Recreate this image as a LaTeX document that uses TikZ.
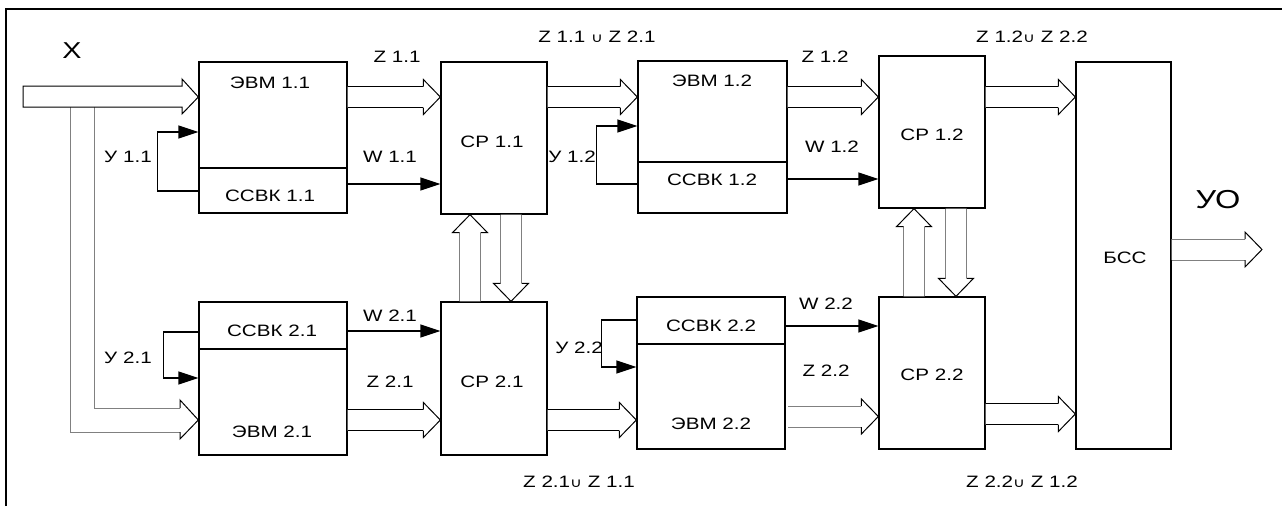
\documentclass[tikz,border=0pt]{standalone}
\usepackage{fontspec}
\setmainfont{Liberation Sans}
\newfontfamily\lblfont[FakeStretch=1.25]{Liberation Sans}
\newfontfamily\symfont[FakeStretch=1.25]{DejaVu Sans}
\usetikzlibrary{arrows.meta,calc}
\tikzset{
  box/.style={draw, line width=1.3pt, inner sep=0pt},
  lbl/.style={font=\lblfont\fontsize{16.5}{19}\selectfont, inner sep=0pt},
  biglbl/.style={font=\lblfont\fontsize{23}{26}\selectfont, inner sep=0pt},
  hugelbl/.style={font=\lblfont\fontsize{26}{30}\selectfont, inner sep=0pt},
  sig/.style={line width=1.3pt, -{Triangle[length=20pt,width=13pt]}},
  hollow/.style={line width=1pt},
  frame/.style={line width=2.5pt}
}
\newcommand\cupsym{{\symfont\fontsize{13}{14}\selectfont ∪}}
\newcommand\blk[5]{\node[box, minimum width={(#4-#2)*1pt}, minimum height={(#5-#3)*1pt}] (#1) at ({(#2+#4)/2},{(#3+#5)/2}) {};}
% horizontal hollow arrow, pointing right
\newcommand\harr[3][black]{%
  \path #2 coordinate (hs) #3 coordinate (he);
  \fill[white] ($(hs)+(0,-10.5)$) -- ($(he)+(-17,-10.5)$) -- ($(he)+(-17,-17.5)$) -- (he) -- ($(he)+(-17,17.5)$) -- ($(he)+(-17,10.5)$) -- ($(hs)+(0,10.5)$) -- cycle;
  \draw[hollow,#1] ($(hs)+(0,-10.5)$) -- ($(he)+(-17,-10.5)$) ($(he)+(-17,10.5)$) -- ($(hs)+(0,10.5)$);
  \draw[hollow] ($(he)+(-17,-10.5)$) -- ($(he)+(-17,-17.5)$) -- (he) -- ($(he)+(-17,17.5)$) -- ($(he)+(-17,10.5)$);
}
% vertical hollow arrow; #4 = +18 (up) or -18 (down)
\newcommand\varr[4][gray]{%
  \path #2 coordinate (vs) #3 coordinate (ve);
  \fill[white] ($(vs)+(-10.5,0)$) -- ($(ve)+(-10.5,#4)$) -- ($(ve)+(-17.5,#4)$) -- (ve) -- ($(ve)+(17.5,#4)$) -- ($(ve)+(10.5,#4)$) -- ($(vs)+(10.5,0)$) -- cycle;
  \draw[hollow,#1] ($(vs)+(-10.5,0)$) -- ($(ve)+(-10.5,#4)$) ($(ve)+(10.5,#4)$) -- ($(vs)+(10.5,0)$);
  \draw[hollow] ($(ve)+(-10.5,#4)$) -- ($(ve)+(-17.5,#4)$) -- (ve) -- ($(ve)+(17.5,#4)$) -- ($(ve)+(10.5,#4)$);
}
\begin{document}
\begin{tikzpicture}[x=1pt,y=-1pt]
\useasboundingbox (0,0) rectangle (1282,506);
% frame
\draw[frame] (6,506) -- (6,9) -- (1282,9);

% blocks
\blk{evm11}{199}{62}{347}{168}
\blk{ssvk11}{199}{168}{347}{213}
\blk{cp11}{441}{62}{547}{214}
\blk{evm12}{638}{61}{787}{162}
\blk{ssvk12}{638}{162}{787}{213}
\blk{cp12}{879}{56}{985}{208}
\blk{bss}{1076}{62}{1171}{449}
\blk{ssvk21}{199}{302}{347}{349}
\blk{evm21}{199}{349}{347}{455}
\blk{cp21}{441}{302}{547}{455}
\blk{ssvk22}{637}{297}{785}{344}
\blk{evm22}{637}{344}{785}{449}
\blk{cp22}{879}{297}{985}{449}

% block texts
\node[lbl] (tevm11) at (270,83) {ЭВМ 1.1};
\node[lbl] (tssvk11) at (270,196) {ССВК 1.1};
\node[lbl] (tcp11) at (492,142) {СР 1.1};
\node[lbl] (tevm12) at (712,81) {ЭВМ 1.2};
\node[lbl] (tssvk12) at (712,180) {ССВК 1.2};
\node[lbl] (tcp12) at (932,135) {СР 1.2};
\node[lbl] (tbss) at (1125,258) {БСС};
\node[lbl] (tssvk21) at (272,331) {ССВК 2.1};
\node[lbl] (tevm21) at (272,432) {ЭВМ 2.1};
\node[lbl] (tcp21) at (492,382) {СР 2.1};
\node[lbl] (tssvk22) at (711,326) {ССВК 2.2};
\node[lbl] (tevm22) at (711,424) {ЭВМ 2.2};
\node[lbl] (tcp22) at (932,375) {СР 2.2};

% X input and its branches to ЭВМ 2.1
\draw[hollow,gray] (70,107) -- (70,432) -- (180,432);
\draw[hollow,gray] (94,107) -- (94,408) -- (180,408);
\draw[hollow] (180,408) -- (180,400) -- (evm21.west |- 0,420) -- (180,439) -- (180,432);
\draw[hollow, fill=white] (23,86) -- (182,86) -- (182,79) -- (evm11.west |- 0,97) -- (182,114) -- (182,107) -- (23,107) -- cycle;

% hollow data arrows
\harr{(evm11.east |- 0,97)}{(cp11.west |- 0,97)}
\harr{(cp11.east |- 0,97)}{(evm12.west |- 0,97)}
\harr{(evm12.east |- 0,97)}{(cp12.west |- 0,97)}
\harr{(cp12.east |- 0,97)}{(bss.west |- 0,97)}
\harr{(evm21.east |- 0,420)}{(cp21.west |- 0,420)}
\harr{(cp21.east |- 0,420)}{(evm22.west |- 0,420)}
\harr[gray]{(788,416.5)}{(cp22.west |- 0,416.5)}
\harr{(cp22.east |- 0,414)}{(bss.west |- 0,414)}
\harr[gray]{(bss.east |- 0,249.5)}{(1262,249.5)}

% vertical exchange arrows
\varr{($(cp21.north)+(-24,0)$)}{($(cp11.south)+(-24,0)$)}{18}
\varr{($(cp11.south)+(17,0)$)}{($(cp21.north)+(17,0)$)}{-18}
\varr{($(cp22.north)+(-18,0)$)}{($(cp12.south)+(-18,0)$)}{18}
\varr{($(cp12.south)+(24,0)$)}{($(cp22.north)+(24,0)$)}{-18}

% control arrows
\draw[sig] (ssvk11.west |- 0,191) -- ++(-41,0) |- (evm11.west |- 0,132);
\draw[sig] (ssvk11.east |- 0,184) -- (cp11.west |- 0,184);
\draw[sig] (ssvk12.west |- 0,184) -- ++(-41,0) |- (evm12.west |- 0,126);
\draw[sig] (ssvk12.east |- 0,179) -- (cp12.west |- 0,179);
\draw[sig] (ssvk21.west |- 0,332) -- ++(-35,0) |- (evm21.west |- 0,378);
\draw[sig] (ssvk21.east |- 0,331) -- (cp21.west |- 0,331);
\draw[sig] (ssvk22.west |- 0,320) -- ++(-35,0) |- (evm22.west |- 0,367);
\draw[sig] (ssvk22.east |- 0,326) -- (cp22.west |- 0,326);

% signal labels
\node[biglbl] (lx) at (72,51) {X};
\node[hugelbl] (luo) at (1218,200) {УО};
\node[lbl] (lz11) at (397,57) {Z 1.1};
\node[lbl] (lw11) at (390,157) {W 1.1};
\node[lbl] (ly11) at (128,157) {У 1.1};
\node[lbl] (lu1) at (597,37) {Z 1.1 \cupsym{} Z 2.1};
\node[lbl] (lz12) at (825,57) {Z 1.2};
\node[lbl] (lw12) at (832,147) {W 1.2};
\node[lbl] (ly12) at (572,157) {У 1.2};
\node[lbl] (lu2) at (1032,37) {Z 1.2\cupsym{} Z 2.2};
\node[lbl] (lw21) at (390,316) {W 2.1};
\node[lbl] (lz21) at (390,382) {Z 2.1};
\node[lbl] (ly21) at (128,358) {У 2.1};
\node[lbl] (ly22) at (579,348) {У 2.2};
\node[lbl] (lw22) at (826,304) {W 2.2};
\node[lbl] (lz22) at (826,371) {Z 2.2};
\node[lbl] (lu3) at (579,482) {Z 2.1\cupsym{} Z 1.1};
\node[lbl] (lu4) at (1022,482) {Z 2.2\cupsym{} Z 1.2};
\end{tikzpicture}
\end{document}
